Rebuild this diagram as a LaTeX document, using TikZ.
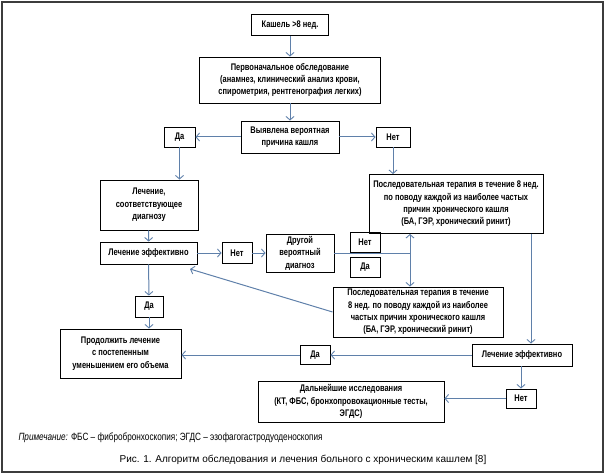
\documentclass[tikz,border=0pt]{standalone}
\usepackage{fontspec}
\setmainfont{Liberation Sans}
\newfontfamily\condfont[FakeStretch=0.78]{Liberation Sans}
\usetikzlibrary{arrows.meta}
\definecolor{arrowblue}{RGB}{95,128,170}
\definecolor{framegray}{RGB}{60,60,60}
\newcommand{\boxfont}{\condfont\bfseries\fontsize{9.6}{12.4}\selectfont}
\tikzset{
  box/.style={draw=black, line width=0.9pt, rectangle, inner sep=0pt, align=center, font=\boxfont},
  arr/.style={draw=arrowblue, line width=1pt, -{Straight Barb[length=3.5pt,width=8pt,line width=0.9pt]}},
  darr/.style={draw=arrowblue, line width=1pt, {Straight Barb[length=3.5pt,width=8pt,line width=0.9pt]}-{Straight Barb[length=3.5pt,width=8pt,line width=0.9pt]}},
  plain/.style={draw=arrowblue, line width=1pt}
}
\begin{document}
\begin{tikzpicture}[x=1pt,y=-1pt]
\useasboundingbox (0,0) rectangle (605,476);
\draw[framegray, line width=1.5pt] (2,2) rectangle (603,472);

\node[box, minimum width=77pt, minimum height=21pt] (n1) at (290,25) {Кашель >8 нед.};
\node[box, minimum width=181pt, minimum height=46pt] (n2) at (290,80) {Первоначальное обследование\\(анамнез, клинический анализ крови,\\спирометрия, рентгенография легких)};
\node[box, minimum width=98pt, minimum height=32pt] (n3) at (290,137) {Выявлена вероятная\\причина кашля};
\node[box, minimum width=31pt, minimum height=20pt] (da1) at (179.5,137) {Да};
\node[box, minimum width=34pt, minimum height=20pt] (net1) at (393,137) {Нет};
\node[box, minimum width=98pt, minimum height=50pt] (n4) at (149,205) {Лечение,\\соответствующее\\диагнозу};
\node[box, minimum width=174pt, minimum height=59pt] (n5) at (456,204) {Последовательная терапия в течение 8 нед.\\по поводу каждой из наиболее частых\\причин хронического кашля\\(БА, ГЭР, хронический ринит)};
\node[box, minimum width=97pt, minimum height=22pt] (n6) at (148.5,253) {Лечение эффективно};
\node[box, minimum width=30pt, minimum height=21pt] (net2) at (237,253) {Нет};
\node[box, minimum width=68pt, minimum height=38pt] (n7) at (300,253) {Другой\\вероятный\\диагноз};
\node[box, minimum width=30pt, minimum height=20pt] (net3) at (365,242) {Нет};
\node[box, minimum width=30pt, minimum height=20pt] (da2) at (365,267) {Да};
\node[box, minimum width=170pt, minimum height=50pt] (n8) at (418,312) {Последовательная терапия в течение\\8 нед. по поводу каждой из наиболее\\частых причин хронического кашля\\(БА, ГЭР, хронический ринит)};
\node[box, minimum width=28pt, minimum height=21pt] (da3) at (149,306.5) {Да};
\node[box, minimum width=121pt, minimum height=49pt] (n9) at (120.5,353.5) {Продолжить лечение\\с постепенным\\уменьшением его объема};
\node[box, minimum width=100pt, minimum height=22pt] (n10) at (522,355) {Лечение эффективно};
\node[box, minimum width=30pt, minimum height=19pt] (da4) at (315,355) {Да};
\node[box, minimum width=30pt, minimum height=19pt] (net4) at (521,398.5) {Нет};
\node[box, minimum width=186pt, minimum height=41pt] (n11) at (351,401.5) {Дальнейшие исследования\\(КТ, ФБС, бронхопровокационные тесты,\\ЭГДС)};

\coordinate (j) at (410,253);
\coordinate (v) at (531,0);
\coordinate (tip) at (190,269);

\draw[arr] (n1) -- (n2);
\draw[arr] (n2) -- (n3);
\draw[arr] (n3) -- (da1);
\draw[arr] (n3) -- (net1);
\draw[arr] (da1.south) -- (da1.south |- n4.north);
\draw[arr] (net1.south) -- (net1.south |- n5.north);
\draw[arr] (n4) -- (n6);
\draw[arr] (n6) -- (net2);
\draw[arr] (net2) -- (n7);
\draw[plain] (n7.east) -- (j);
\draw[darr] (j |- n5.south) -- (j |- n8.north);
\draw[arr] (n8.west) -- (tip);
\draw[arr] (n6) -- (da3);
\draw[arr] (da3) -- (n9.north -| da3);
\draw[arr] (v |- n5.south) -- (v |- n10.north);
\draw[arr] (n10) -- (da4);
\draw[arr] (da4.west) -- (da4.west -| n9.east);
\draw[arr] (net4.north |- n10.south) -- (net4.north);
\draw[arr] (net4.west) -- (net4.west -| n11.east);

\node[anchor=west, font=\condfont\fontsize{10.5}{12}\selectfont] (note) at (15,438) {\textit{Примечание:} ФБС – фибробронхоскопия; ЭГДС – эзофагогастродуоденоскопия};
\node[font=\fontsize{10}{12}\selectfont] (cap) at (303,460) {Рис. 1. Алгоритм обследования и лечения больного с хроническим кашлем [8]};
\end{tikzpicture}
\end{document}
